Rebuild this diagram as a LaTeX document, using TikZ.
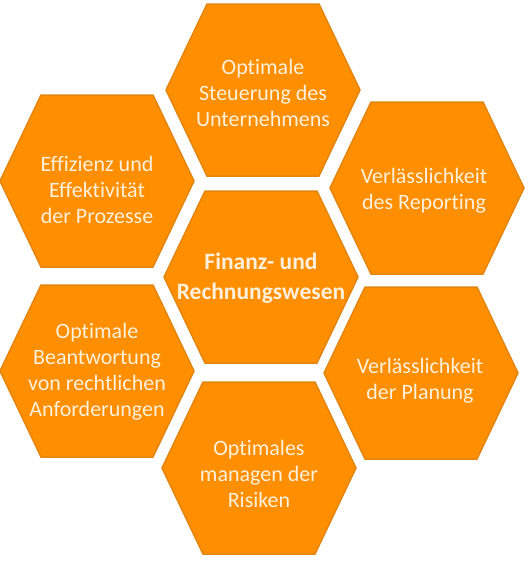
\documentclass[tikz,border=0pt]{standalone}
\usepackage{fontspec}
\setmainfont{Carlito}[Ligatures=CommonOff]
\definecolor{hexfill}{RGB}{255,143,0}
\definecolor{hexline}{RGB}{226,134,16}
\definecolor{hextext}{RGB}{253,240,220}
\tikzset{
  hexshape/.style={fill=hexfill, draw=hexline, line width=1.5pt, line join=miter},
  hextxt/.style={text=hextext, align=center, font=\fontsize{22}{26}\selectfont, inner sep=0pt},
  hexbold/.style={hextxt, font=\fontsize{23.5}{30}\selectfont\bfseries}
}
\newcommand\hexat[1]{%
  \draw[hexshape] (#1) ++(-97,0) -- ++(41,-86) -- ++(112,0) -- ++(41,86) -- ++(-41,86) -- ++(-112,0) -- cycle;}
\begin{document}
\begin{tikzpicture}[x=1pt,y=-1pt]
\useasboundingbox (0,0) rectangle (529,563);
\coordinate (cT) at (263,90);
\coordinate (cC) at (261,277);
\coordinate (cLU) at (97,181);
\coordinate (cRU) at (427,188);
\coordinate (cLD) at (97,371);
\coordinate (cRD) at (421,373);
\coordinate (cB) at (259,468);
\foreach \c in {cT,cC,cLU,cRU,cLD,cRD,cB} {\hexat{\c}}
\node[hextxt] (tT) at (263,93) {Optimale\\Steuerung des\\Unternehmens};
\node[hexbold] (tC) at (261,278) {Finanz- und\\Rechnungswesen};
\node[hextxt] (tLU) at (97,190) {Effizienz und\\Effektivität\\der Prozesse};
\node[hextxt] (tRU) at (424,191) {Verlässlichkeit\\des Reporting};
\node[hextxt] (tLD) at (97,372) {Optimale\\Beantwortung\\von rechtlichen\\Anforderungen};
\node[hextxt] (tRD) at (420,381) {Verlässlichkeit\\der Planung};
\node[hextxt] (tB) at (259,474) {Optimales\\managen der\\Risiken};
\end{tikzpicture}
\end{document}
